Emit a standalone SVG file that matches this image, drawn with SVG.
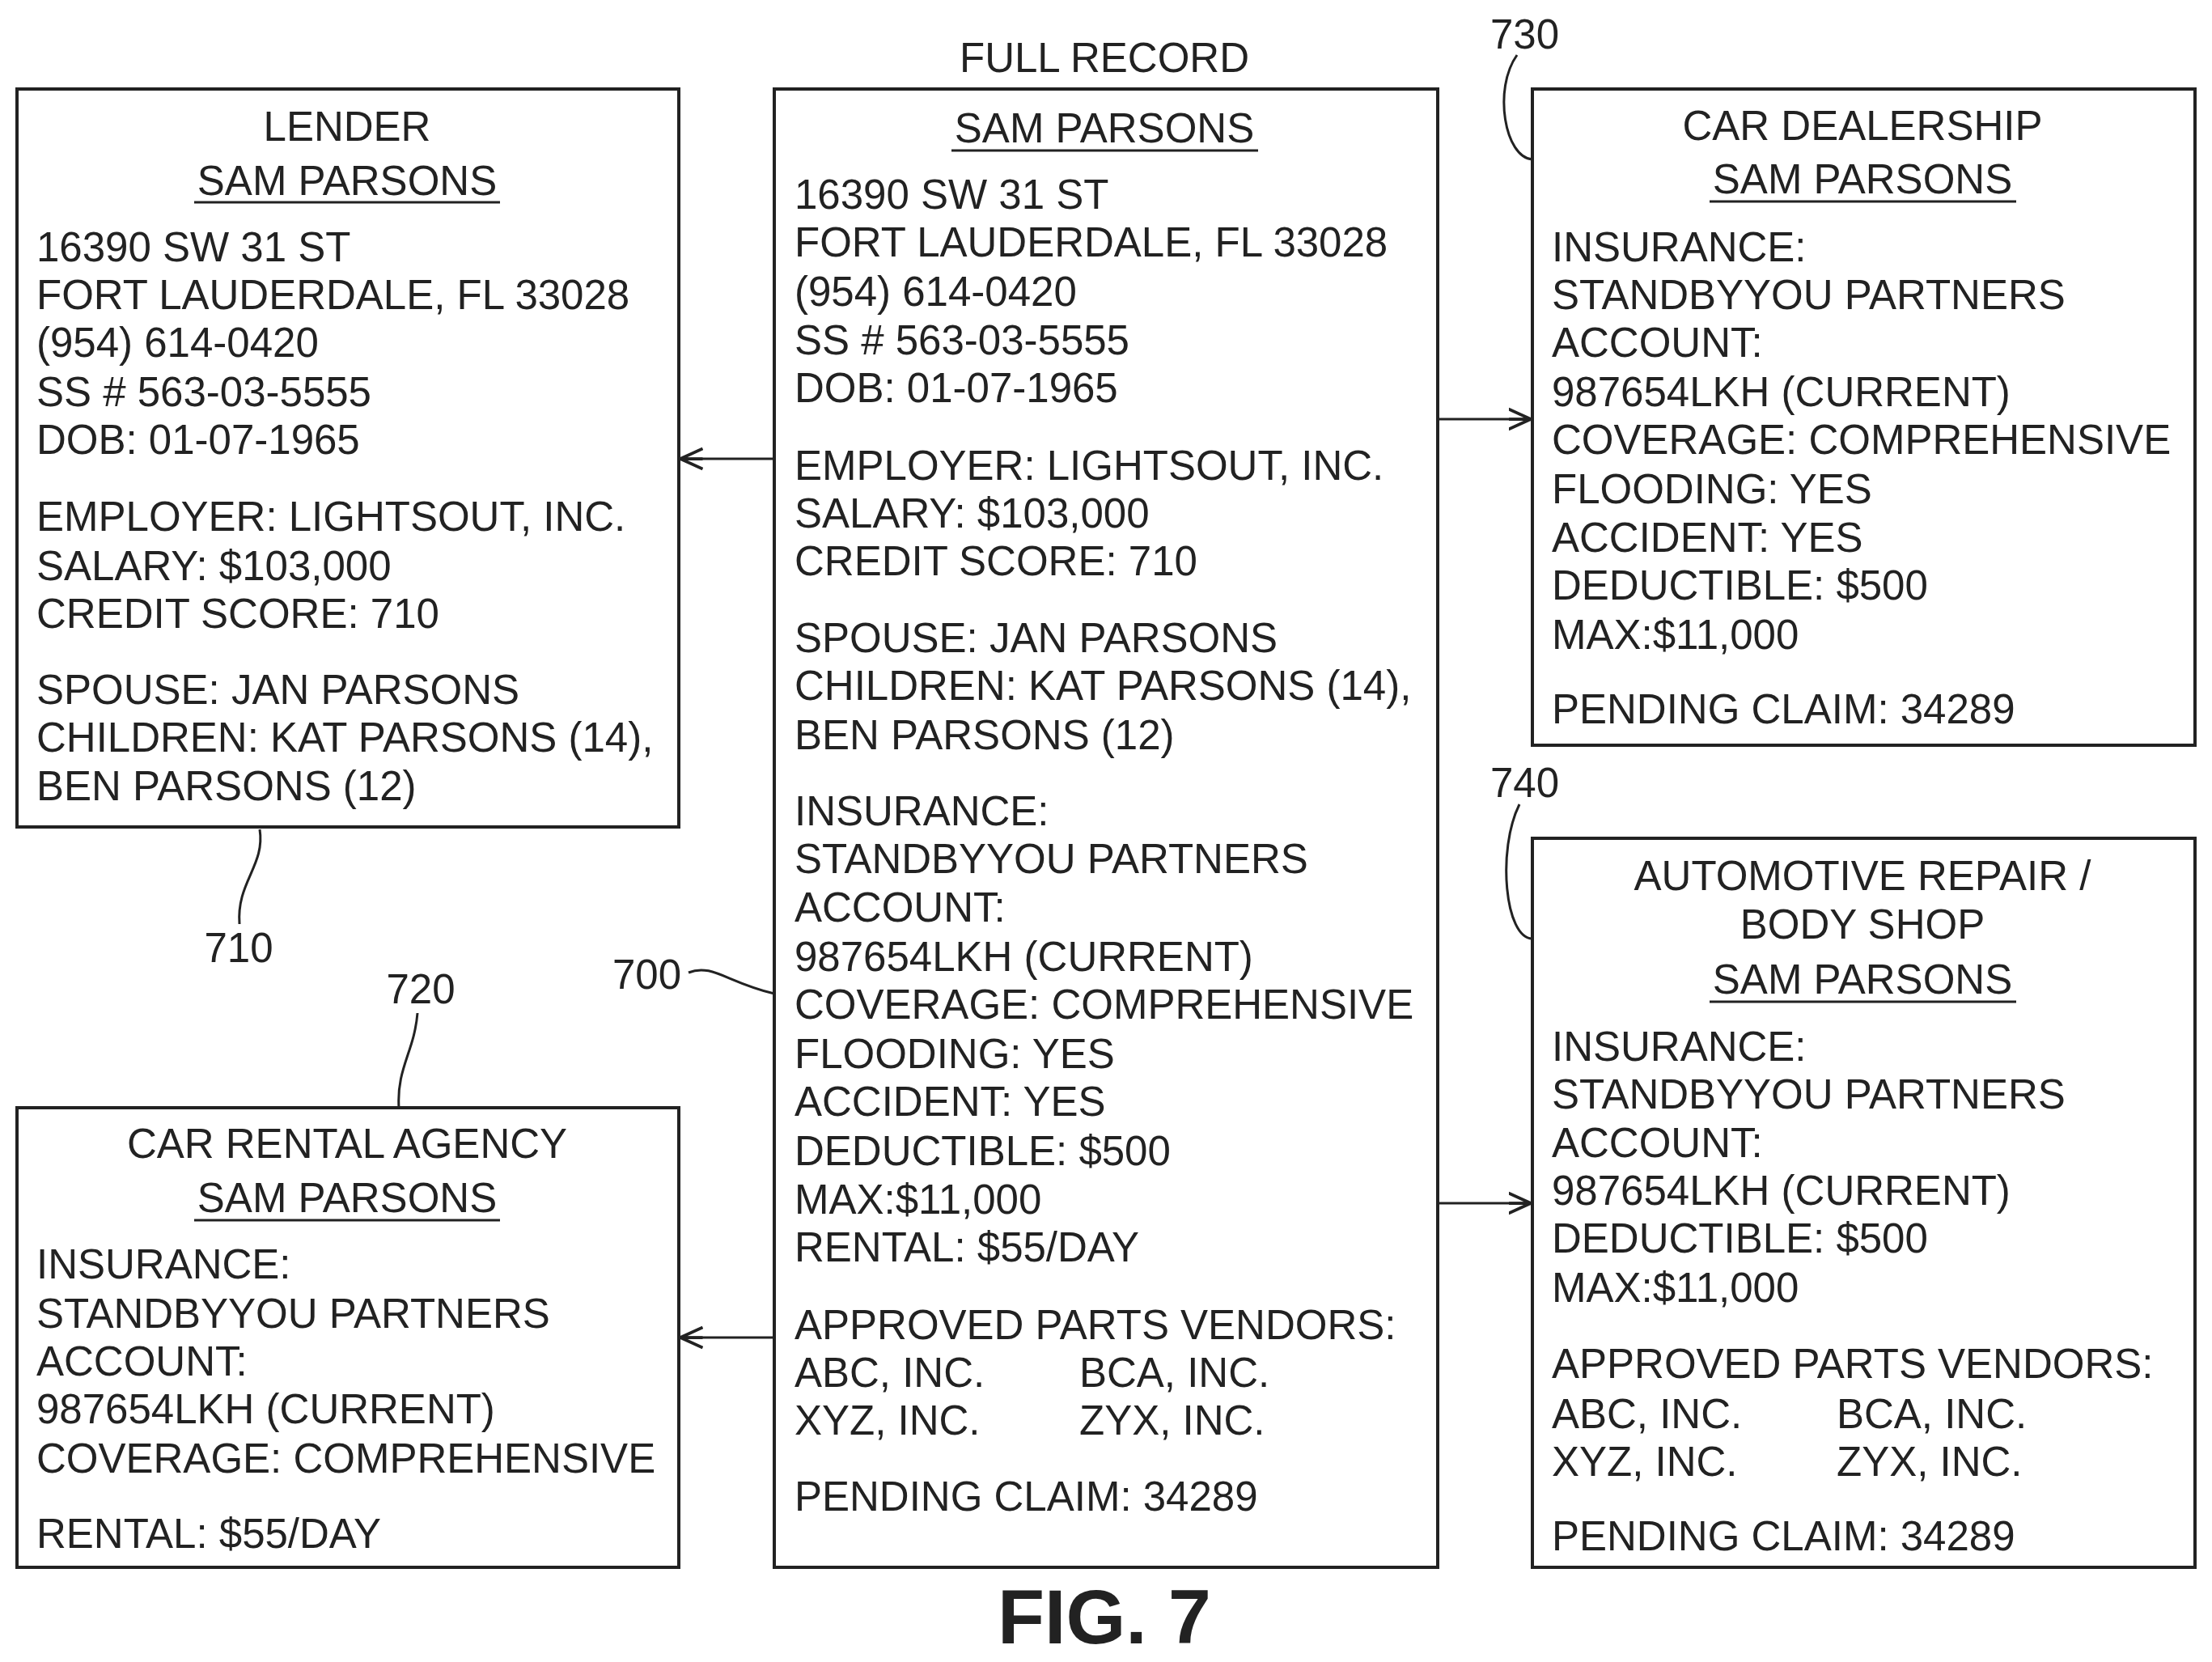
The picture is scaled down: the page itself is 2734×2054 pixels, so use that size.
<svg xmlns="http://www.w3.org/2000/svg" width="2734" height="2054" viewBox="0 0 2734 2054">
<style>
text{font-family:"Liberation Sans",Arial,sans-serif;font-size:51px;fill:#222}
.c{text-anchor:middle}
.box{fill:#fff;stroke:#222;stroke-width:4}
.ul{stroke:#222;stroke-width:3}
.ln{fill:none;stroke:#222;stroke-width:3}
</style>
<defs><marker id="a" markerWidth="12" markerHeight="12" refX="11" refY="6" orient="auto" markerUnits="userSpaceOnUse"><path d="M0,0 L12,6 L0,12 Z" fill="#222"/></marker>
<marker id="b" viewBox="0 0 24 24" markerWidth="30" markerHeight="30" refX="22" refY="12" orient="auto" markerUnits="userSpaceOnUse"><path d="M0,2 L22,12 L0,22 M0,12 L22,12" fill="none" stroke="#222" stroke-width="3"/></marker></defs>
<rect width="2734" height="2054" fill="#fff"/>
<g id="lender">
<rect class="box" x="21" y="110" width="818" height="912"/>
<text class="c" x="429" y="174">LENDER</text><text class="c" x="429" y="241">SAM PARSONS</text><line class="ul" x1="240" y1="250" x2="618" y2="250"/>
<text x="45" y="323">16390 SW 31 ST</text><text x="45" y="382">FORT LAUDERDALE, FL 33028</text><text x="45" y="441">(954) 614-0420</text><text x="45" y="502">SS # 563-03-5555</text><text x="45" y="561">DOB: 01-07-1965</text>
<text x="45" y="656">EMPLOYER: LIGHTSOUT, INC.</text><text x="45" y="717">SALARY: $103,000</text><text x="45" y="776">CREDIT SCORE: 710</text>
<text x="45" y="870">SPOUSE: JAN PARSONS</text><text x="45" y="929">CHILDREN: KAT PARSONS (14),</text><text x="45" y="989">BEN PARSONS (12)</text>
</g>
<g id="full">
<text class="c" x="1365" y="89">FULL RECORD</text>
<rect class="box" x="957" y="110" width="820" height="1827"/>
<text class="c" x="1365" y="176">SAM PARSONS</text><line class="ul" x1="1176" y1="186" x2="1555" y2="186"/>
<text x="982" y="258">16390 SW 31 ST</text><text x="982" y="317">FORT LAUDERDALE, FL 33028</text><text x="982" y="378">(954) 614-0420</text><text x="982" y="438">SS # 563-03-5555</text><text x="982" y="497">DOB: 01-07-1965</text>
<text x="982" y="593">EMPLOYER: LIGHTSOUT, INC.</text><text x="982" y="652">SALARY: $103,000</text><text x="982" y="711">CREDIT SCORE: 710</text>
<text x="982" y="806">SPOUSE: JAN PARSONS</text><text x="982" y="865">CHILDREN: KAT PARSONS (14),</text><text x="982" y="926">BEN PARSONS (12)</text>
<text x="982" y="1020">INSURANCE:</text><text x="982" y="1079">STANDBYYOU PARTNERS</text><text x="982" y="1139">ACCOUNT:</text><text x="982" y="1200">987654LKH (CURRENT)</text><text x="982" y="1259">COVERAGE: COMPREHENSIVE</text><text x="982" y="1320">FLOODING: YES</text><text x="982" y="1379">ACCIDENT: YES</text><text x="982" y="1440">DEDUCTIBLE: $500</text><text x="982" y="1500">MAX:$11,000</text><text x="982" y="1559">RENTAL: $55/DAY</text>
<text x="982" y="1655">APPROVED PARTS VENDORS:</text><text x="982" y="1714">ABC, INC.</text><text x="1334" y="1714">BCA, INC.</text><text x="982" y="1773">XYZ, INC.</text><text x="1334" y="1773">ZYX, INC.</text>
<text x="982" y="1867">PENDING CLAIM: 34289</text>
</g>
<g id="dealer">
<rect class="box" x="1894" y="110" width="819" height="811"/>
<text class="c" x="2302" y="173">CAR DEALERSHIP</text><text class="c" x="2302" y="239">SAM PARSONS</text><line class="ul" x1="2113" y1="249" x2="2492" y2="249"/>
<text x="1918" y="323">INSURANCE:</text><text x="1918" y="382">STANDBYYOU PARTNERS</text><text x="1918" y="441">ACCOUNT:</text><text x="1918" y="502">987654LKH (CURRENT)</text><text x="1918" y="561">COVERAGE: COMPREHENSIVE</text><text x="1918" y="622">FLOODING: YES</text><text x="1918" y="682">ACCIDENT: YES</text><text x="1918" y="741">DEDUCTIBLE: $500</text><text x="1918" y="802">MAX:$11,000</text>
<text x="1918" y="894">PENDING CLAIM: 34289</text>
</g>
<g id="repair">
<rect class="box" x="1894" y="1036" width="819" height="901"/>
<text class="c" x="2302" y="1100">AUTOMOTIVE REPAIR /</text><text class="c" x="2302" y="1160">BODY SHOP</text><text class="c" x="2302" y="1228">SAM PARSONS</text><line class="ul" x1="2113" y1="1238" x2="2492" y2="1238"/>
<text x="1918" y="1311">INSURANCE:</text><text x="1918" y="1370">STANDBYYOU PARTNERS</text><text x="1918" y="1430">ACCOUNT:</text><text x="1918" y="1489">987654LKH (CURRENT)</text><text x="1918" y="1548">DEDUCTIBLE: $500</text><text x="1918" y="1609">MAX:$11,000</text>
<text x="1918" y="1703">APPROVED PARTS VENDORS:</text><text x="1918" y="1765">ABC, INC.</text><text x="2270" y="1765">BCA, INC.</text><text x="1918" y="1824">XYZ, INC.</text><text x="2270" y="1824">ZYX, INC.</text>
<text x="1918" y="1916">PENDING CLAIM: 34289</text>
</g>
<g id="rental">
<rect class="box" x="21" y="1369" width="818" height="568"/>
<text class="c" x="429" y="1431">CAR RENTAL AGENCY</text><text class="c" x="429" y="1498">SAM PARSONS</text><line class="ul" x1="240" y1="1508" x2="618" y2="1508"/>
<text x="45" y="1580">INSURANCE:</text><text x="45" y="1641">STANDBYYOU PARTNERS</text><text x="45" y="1700">ACCOUNT:</text><text x="45" y="1759">987654LKH (CURRENT)</text><text x="45" y="1820">COVERAGE: COMPREHENSIVE</text>
<text x="45" y="1913">RENTAL: $55/DAY</text>
</g>
<g id="connectors">
<line class="ln" x1="957" y1="567" x2="841" y2="567" marker-end="url(#b)"/>
<line class="ln" x1="957" y1="1653" x2="841" y2="1653" marker-end="url(#b)"/>
<line class="ln" x1="1777" y1="518" x2="1892" y2="518" marker-end="url(#b)"/>
<line class="ln" x1="1777" y1="1487" x2="1892" y2="1487" marker-end="url(#b)"/>
<path class="ln" d="M1875,68 C1845,110 1860,195 1894,197"/>
<path class="ln" d="M1878,994 C1850,1050 1860,1160 1894,1160"/>
<path class="ln" d="M321,1025 C328,1070 292,1090 296,1142"/>
<path class="ln" d="M516,1252 C512,1300 490,1320 493,1369"/>
<path class="ln" d="M851,1202 C880,1190 900,1215 957,1228"/>
</g>
<g id="labels">
<text x="1842" y="60">730</text><text x="1842" y="985">740</text>
<text class="c" x="295" y="1189">710</text><text class="c" x="520" y="1240">720</text>
<text x="842" y="1222" text-anchor="end">700</text>
<text class="c" x="1365" y="2031" style="font-size:95px;font-weight:bold">FIG. 7</text>
</g>
</svg>
